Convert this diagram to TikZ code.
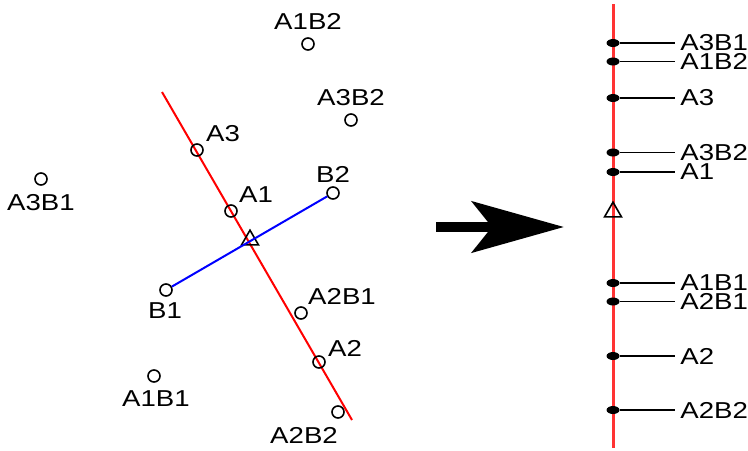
\documentclass[tikz,border=0pt]{standalone}
\usepackage{fontspec}
\setmainfont{Liberation Sans}[FakeStretch=1.2]
\usetikzlibrary{arrows.meta,positioning,shapes.geometric}
\tikzset{
  pnt/.style={draw, circle, line width=0.8pt, minimum size=6pt, inner sep=0pt},
  lbl/.style={font=\fontsize{11.5}{13}\selectfont, inner sep=0pt},
  rlbl/.style={lbl, anchor=west, inner xsep=2.5pt},
  tri/.style={draw, regular polygon, regular polygon sides=3, line width=0.8pt,
              minimum size=9.8pt, inner sep=0pt},
  fdot/.style={fill, ellipse, minimum width=6.5pt, minimum height=4pt, inner sep=0pt},
  lead/.style={line width=0.75pt},
  arr/.style={-{Stealth[length=46pt, width=25.5pt, inset=10pt]}, line width=5pt}
}

\begin{document}
\begin{tikzpicture}[x=0.5pt, y=-0.5pt]
    \useasboundingbox (0,0) rectangle (748,450);
    \coordinate (rtop) at (162,92);
    \coordinate (rbot) at (352,420);
    \draw[red, line width=1pt] (rtop) -- (rbot);
    \node[pnt] (A1B2) at (308,44) {};
    \node[pnt] (A3B2) at (351,120) {};
    \node[pnt] (A3) at (197,150) {};
    \node[pnt] (A3B1) at (41,179) {};
    \node[pnt] (B2) at (333,193) {};
    \node[pnt] (A1) at (231,211) {};
    \node[pnt] (B1) at (166,290) {};
    \node[pnt] (A2B1) at (301,313) {};
    \node[pnt] (A2) at (319,362) {};
    \node[pnt] (A1B1) at (154,376) {};
    \node[pnt] (A2B2) at (338,412) {};
    \node[tri] (C) at (250,240) {};
    \draw[blue, line width=1pt] (B1) -- (B2);
    \node[lbl] (lA1B2) at (308,21) {A1B2};
    \node[lbl] (lA3B2) at (351,97.5) {A3B2};
    \node[lbl] (lA3) at (223,134) {A3};
    \node[lbl] (lA3B1) at (41,202.5) {A3B1};
    \node[lbl] (lB2) at (333,174) {B2};
    \node[lbl] (lA1) at (256,195) {A1};
    \node[lbl] (lB1) at (165,311) {B1};
    \node[lbl] (lA2B1) at (342,296) {A2B1};
    \node[lbl] (lA2) at (345,348.5) {A2};
    \node[lbl] (lA1B1) at (156,399) {A1B1};
    \node[lbl] (lA2B2) at (304,435.5) {A2B2};

    \coordinate (tail) at (436,227);
    \coordinate (head) at (564,227);
    \draw[arr] (tail) -- (head);

    \coordinate (vtop) at (613,4);
    \coordinate (vbot) at (613,448);
    \draw[red!80, line width=1.5pt] (vtop) -- (vbot);
    \node[tri] (rC) at (613,212) {};
    \node[fdot] (d1) at (613,43) {};
    \node[fdot] (d2) at (613,61.5) {};
    \node[fdot] (d3) at (613,98) {};
    \node[fdot] (d4) at (613,152.5) {};
    \node[fdot] (d5) at (613,172) {};
    \node[fdot] (d6) at (613,283) {};
    \node[fdot] (d7) at (613,301.5) {};
    \node[fdot] (d8) at (613,356) {};
    \node[fdot] (d9) at (613,410) {};
    \node[rlbl] (t1) at (675,43) {A3B1};
    \node[rlbl] (t2) at (675,61.5) {A1B2};
    \node[rlbl] (t3) at (675,98) {A3};
    \node[rlbl] (t4) at (675,152.5) {A3B2};
    \node[rlbl] (t5) at (675,172) {A1};
    \node[rlbl] (t6) at (675,283) {A1B1};
    \node[rlbl] (t7) at (675,301.5) {A2B1};
    \node[rlbl] (t8) at (675,356) {A2};
    \node[rlbl] (t9) at (675,410) {A2B2};
    \draw[lead] (d1) -- (t1);
    \draw[lead] (d2) -- (t2);
    \draw[lead] (d3) -- (t3);
    \draw[lead] (d4) -- (t4);
    \draw[lead] (d5) -- (t5);
    \draw[lead] (d6) -- (t6);
    \draw[lead] (d7) -- (t7);
    \draw[lead] (d8) -- (t8);
    \draw[lead] (d9) -- (t9);
  \end{tikzpicture}
\end{document}
